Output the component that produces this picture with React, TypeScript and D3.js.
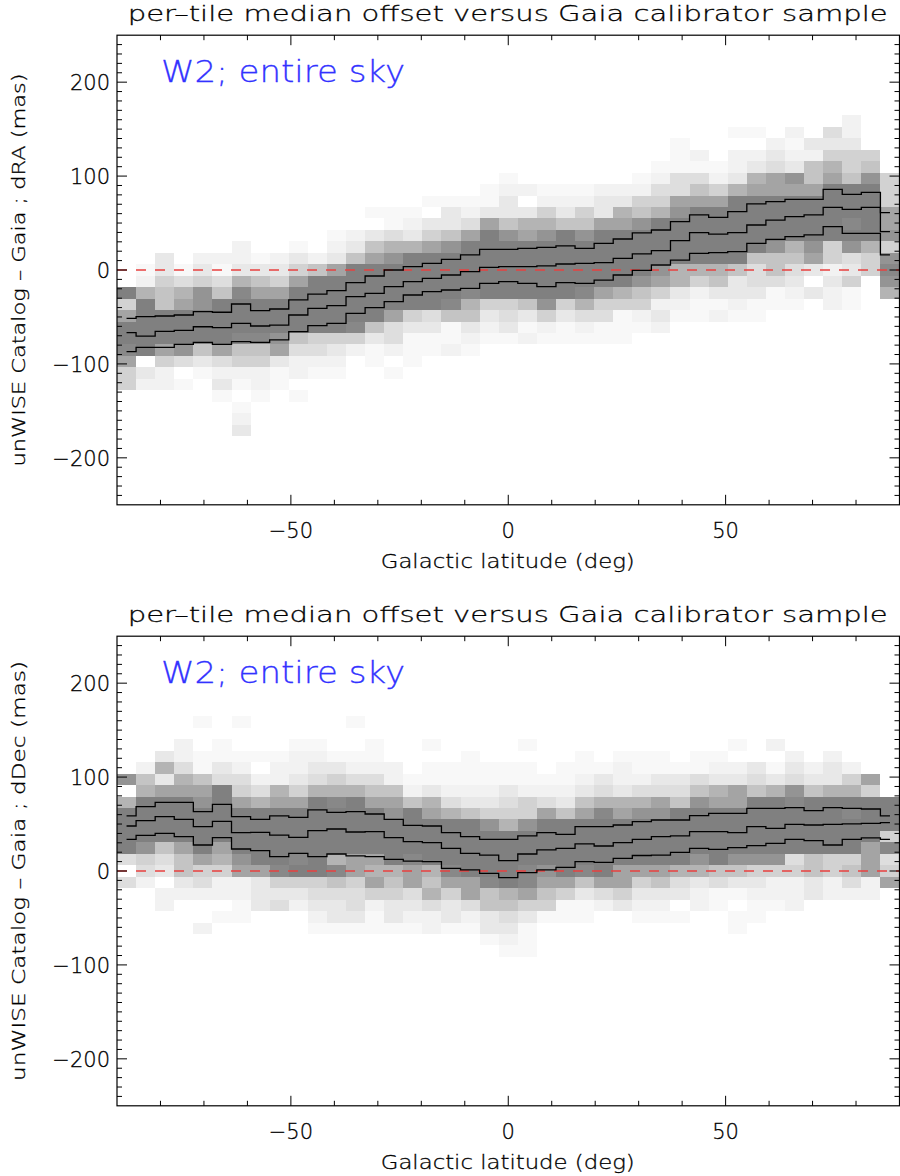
import React from 'react';
import * as d3 from 'd3';

// ---------- binning of the 2-D histograms ----------
const N_LAT = 41;
const N_OFF = 41;
const LAT_MIN = -90;
const LAT_MAX = 90;
const OFF_MIN = -250;
const OFF_MAX = 250;

// grey level codes used in the cell strings ('0' = empty)
const grayLevels: Record<string, number> = {
  '1': 248, '2': 242, '3': 232, '4': 222, '5': 210, '6': 196,
  '7': 180, '8': 164, '9': 148, 'a': 136, 'b': 128,
};

// ---------- dRA panel: per column, row index of first char, then levels downward ----------
const raTopRow = [18, 20, 21, 20, 21, 21, 22, 21, 21, 22, 21, 23, 23, 25, 25, 25, 26, 26, 26, 27, 28,
  27, 27, 27, 27, 27, 27, 28, 29, 31, 30, 29, 32, 32, 31, 32, 31, 32, 33, 30, 28];
const raLevels = [
  'b58bba855', '127bbbbb032', '33566bbb8522', '1478bbb9401', '23599bbb631', '2146bbbb84231',
  '2237abbba65210123', '1368bbba65221', '2358bbb98311', '1358bbbb642201', '26bbbbb5421',
  '1238bbbbb5321', '236bbbbba52', '10368bbbbb6311', '11479bbbb844201', '1237bbbbb53111',
  '10358bbbbb4311', '13369bbbba6112', '1248bbbba76321', '1138bbbbbb5321', '123369bbbbb5431',
  '20378bbbbb6312', '12579bbbbb9521', '1236bbbbbb5311', '12569bbbba7421', '2338bbbbb85411',
  '2378bbbbb75111', '12569bbbb96521', '12457bbbb985232', '1114489bbbb77321', '21468bbbbb75211',
  '1258bbbbb76312', '102237bbbbbb63321', '102378bbbbb644311', '23488bbbb966411',
  '212398bbbb764321', '32668bbbb98303', '43578bbbbb552322', '223556bbbab943511', '569bbbbb755',
  '55588959a97',
];
const raUpper = [-51.4, -49.7, -49, -47.9, -44.4, -45, -36.2, -43.3, -41.5, -31.9, -25.6, -22, -13.5,
  -6.4, 0, 3.6, 7.1, 11.4, 16, 22, 22, 23.1, 24.1, 25.6, 23.1, 28.4, 33, 39.5, 42.6, 51.5, 58.6, 56.1,
  62.1, 70.3, 72.8, 75.3, 75.3, 85.9, 80.6, 82.7, 61.1];
const raMedian = [-66.7, -70.3, -65.3, -64.3, -60.4, -61.4, -56.8, -59.6, -58.6, -47.9, -40.8, -38,
  -28.4, -24.8, -17.8, -12.4, -8.9, -5.3, -1.8, 2.8, 3.6, 3.6, 4.3, 6.4, 7.1, 7.8, 12.4, 17.2, 20.6,
  31.2, 39.8, 38.3, 39.8, 47.9, 53.2, 56.8, 58.6, 66.7, 64.6, 66.7, 40.8];
const raLower = [-87, -82.4, -82.4, -79.2, -77, -79.2, -76.3, -77, -74.5, -65.7, -59.3, -56.8, -46.1,
  -40.1, -33.7, -26.6, -23.1, -21.3, -19.5, -14.2, -12.4, -14.2, -17.8, -13.5, -14.2, -10.7, -5.3,
  -0.5, 5.3, 10.6, 17.7, 18.5, 19.5, 28.4, 32.6, 35.5, 37.3, 46.2, 39, 39, 16];

// ---------- dDec panel ----------
const decTopRow = [28, 29, 30, 31, 33, 31, 33, 30, 30, 31, 31, 30, 33, 31, 29, 28, 31, 29, 30, 29, 29,
  31, 28, 29, 30, 29, 30, 30, 30, 29, 30, 30, 31, 29, 31, 30, 29, 30, 29, 28, 26];
const decLevels = [
  '907bbbb404', '267bbbb9542', '3738bbbb643022', '22478bbbb86632', '10011689bbbb8542002',
  '1134bbbbb8752201', '10012458bbbb982211', '10247bbbbb8333', '12278bbbbba534', '122358bbbbab532',
  '12347bbbbbbb54321', '1357abbbb7a64331', '1001247bbbbb8854431', '112468bbbb8785211',
  '22689bbbb765331', '126bbbba884321', '1011378bbbb767422', '11247bbbba85331', '111236bbbbb88421',
  '112359bbbba66331', '113457bbbbb764321', '10112559bbbaa853111', '1248bbbb98651', '11236bbbbb8511',
  '112368bbbba6311', '1347abbbbb842', '122378bbbb8853', '112479bbbb85321', '113489bbbb86321',
  '1346bbbbb74301', '11469bbbb97322', '12378bbbbb6411', '102388bbbb9631011', '346bbbbb953211',
  '20137bbbbb95221', '2349abbbb45222', '236bbbbb6633', '2337bbbbb5522', '257babbb5642',
  '85bbbb88822', 'bbb5a458',
];
const decUpper = [58.6, 68.5, 73.1, 73.1, 63.2, 71, 57.9, 55, 58.6, 57.2, 65, 62.5, 63.2, 60.7, 55,
  48.6, 47.9, 40.8, 36.6, 33.7, 33.7, 37.3, 40.8, 39, 47.2, 47.2, 49, 52.5, 54.3, 54.3, 58.9, 61.4,
  61.4, 66.7, 66.7, 67.4, 64.3, 67.4, 66.7, 66, 58.6];
const decMedian = [47.9, 53.6, 57.9, 55, 47.2, 52.9, 40.8, 41.2, 38.3, 35.9, 42.9, 44.7, 41.5, 41.9,
  35.5, 31.2, 30.2, 24.1, 18.8, 17, 11, 18.1, 22.4, 24.1, 28.8, 26.6, 30.2, 33.7, 36.6, 37.3, 41.9,
  41.9, 40.8, 47.2, 45.4, 49.7, 49, 49.7, 50.1, 50.8, 51.5];
const decLower = [33.7, 38, 40.1, 36.6, 27.7, 35.5, 23.4, 21.7, 15.3, 18.8, 15.3, 18.1, 16, 15.3, 12.4,
  10.6, 9.9, 2.8, 1.1, -2.5, -7.1, -1.8, 1.1, 3.9, 9.9, 9.2, 13.5, 16.5, 17, 19.9, 24.1, 23.1, 24.8, 27,
  29.5, 33.7, 32.3, 27.7, 33.7, 35.2, 33.7];

// ---------- axes ----------
const latMajorTicks = [-50, 0, 50];
const latMinorTicks = [-80, -70, -60, -40, -30, -20, -10, 10, 20, 30, 40, 60, 70, 80];
const offMajorTicks = [-200, -100, 0, 100, 200];
const offMinorTicks = [-240, -230, -220, -210, -190, -180, -170, -160, -150, -140, -130, -120, -110,
  -90, -80, -70, -60, -50, -40, -30, -20, -10, 10, 20, 30, 40, 50, 60, 70, 80, 90, 110, 120, 130, 140,
  150, 160, 170, 180, 190, 210, 220, 230, 240];

const titleText = 'per–tile median offset versus Gaia calibrator sample';
const sampleText = 'W2; entire sky';
const xLabelText = 'Galactic latitude (deg)';

const FONT = "'DejaVu Sans', 'Liberation Sans', sans-serif";
const PLOT_LEFT = 117;
const PLOT_RIGHT = 899.5;
const PLOT_H = 469.6;

const fmt = (v: number) => (v < 0 ? '−' + Math.abs(v) : String(v));

interface PanelProps {
  top: number;
  topRows: number[];
  levels: string[];
  upper: number[];
  median: number[];
  lower: number[];
  ylabel: string;
  ylabelLen: number;
  id: string;
}

const textStyle = { fontFamily: FONT, fontWeight: 300 } as const;

function Panel({ top, topRows, levels, upper, median, lower, ylabel, ylabelLen, id }: PanelProps) {
  const bottom = top + PLOT_H;
  const x = d3.scaleLinear().domain([LAT_MIN, LAT_MAX]).range([PLOT_LEFT, PLOT_RIGHT]);
  const y = d3.scaleLinear().domain([OFF_MIN, OFF_MAX]).range([bottom, top]);
  const latStep = (LAT_MAX - LAT_MIN) / N_LAT;
  const offStep = (OFF_MAX - OFF_MIN) / N_OFF;

  const cells: React.ReactNode[] = [];
  levels.forEach((s, i) => {
    const x0 = Math.round(x(LAT_MIN + i * latStep));
    const x1 = Math.round(x(LAT_MIN + (i + 1) * latStep));
    for (let j = 0; j < s.length; j++) {
      const ch = s[j];
      if (ch === '0') continue;
      const k = topRows[i] - j;
      const y0 = Math.round(y(OFF_MIN + (k + 1) * offStep));
      const y1 = Math.round(y(OFF_MIN + k * offStep));
      const g = grayLevels[ch];
      cells.push(
        <rect key={`${id}-${i}-${k}`} x={x0} y={y0} width={x1 - x0} height={y1 - y0}
          fill={`rgb(${g},${g},${g})`} />
      );
    }
  });

  const centers = d3.range(N_LAT).map((i) => LAT_MIN + (i + 0.5) * latStep);
  const line = d3.line<number>()
    .x((_, i) => x(centers[i]))
    .y((d) => y(d))
    .curve(d3.curveStep);

  const midX = (PLOT_LEFT + PLOT_RIGHT) / 2 - 0.5;

  return (
    <g>
      <g shapeRendering="crispEdges">{cells}</g>
      <line x1={x(LAT_MIN)} x2={x(LAT_MAX)} y1={y(0)} y2={y(0)} stroke="#e8403f"
        strokeWidth={1.6} strokeDasharray="10 9" />
      {[upper, median, lower].map((arr, idx) => (
        <path key={idx} d={line(arr) || ''} fill="none" stroke="#000" strokeWidth={1.3} />
      ))}
      {/* frame */}
      <rect x={PLOT_LEFT} y={top} width={PLOT_RIGHT - PLOT_LEFT} height={PLOT_H} fill="none"
        stroke="#000" strokeWidth={1.2} />
      {/* x ticks bottom & top */}
      {latMajorTicks.map((t) => (
        <g key={`xm${t}`} stroke="#000" strokeWidth={1}>
          <line x1={x(t)} x2={x(t)} y1={bottom} y2={bottom - 10} />
          <line x1={x(t)} x2={x(t)} y1={top} y2={top + 10} />
        </g>
      ))}
      {latMinorTicks.map((t) => (
        <g key={`xn${t}`} stroke="#000" strokeWidth={1}>
          <line x1={x(t)} x2={x(t)} y1={bottom} y2={bottom - 5} />
          <line x1={x(t)} x2={x(t)} y1={top} y2={top + 5} />
        </g>
      ))}
      {/* y ticks left & right */}
      {offMajorTicks.map((t) => (
        <g key={`ym${t}`} stroke="#000" strokeWidth={1}>
          <line x1={PLOT_LEFT} x2={PLOT_LEFT + 10} y1={y(t)} y2={y(t)} />
          <line x1={PLOT_RIGHT} x2={PLOT_RIGHT - 10} y1={y(t)} y2={y(t)} />
        </g>
      ))}
      {offMinorTicks.map((t) => (
        <g key={`yn${t}`} stroke="#000" strokeWidth={1}>
          <line x1={PLOT_LEFT} x2={PLOT_LEFT + 5} y1={y(t)} y2={y(t)} />
          <line x1={PLOT_RIGHT} x2={PLOT_RIGHT - 5} y1={y(t)} y2={y(t)} />
        </g>
      ))}
      {/* tick labels */}
      <g fill="#000" stroke="#000" strokeWidth={0.3} style={textStyle}>
        {latMajorTicks.map((t) => (
          <text key={`xl${t}`} x={x(t)} y={bottom + 33} textAnchor="middle" fontSize={21}>{fmt(t)}</text>
        ))}
        {offMajorTicks.map((t) => (
          <text key={`yl${t}`} x={110} y={y(t) + 8} textAnchor="end" fontSize={21}>{fmt(t)}</text>
        ))}
        {/* titles */}
        <text x={midX} y={top - 14.2} textAnchor="middle" fontSize={22}
          textLength={760} lengthAdjust="spacingAndGlyphs">{titleText}</text>
        <text x={midX} y={bottom + 63} textAnchor="middle" fontSize={19}
          textLength={254} lengthAdjust="spacingAndGlyphs">{xLabelText}</text>
        <text transform={`translate(25,${(top + bottom) / 2}) rotate(-90)`} textAnchor="middle"
          fontSize={18} textLength={ylabelLen} lengthAdjust="spacingAndGlyphs">{ylabel}</text>
      </g>
      <text x={161} y={top + 46.5} fontSize={31} style={textStyle} fill="#3232ff" stroke="#3232ff"
        strokeWidth={0.3} textLength={244} lengthAdjust="spacingAndGlyphs">{sampleText}</text>
    </g>
  );
}

export default function App() {
  return (
    <svg width={900} height={1176} viewBox="0 0 900 1176"
      style={{ position: 'absolute', left: 0, top: 0, background: '#fff' }}>
      <rect x={0} y={0} width={900} height={1176} fill="#fff" />
      <Panel id="ra" top={35.2} topRows={raTopRow} levels={raLevels} upper={raUpper} median={raMedian}
        lower={raLower} ylabel="unWISE Catalog – Gaia ; dRA (mas)" ylabelLen={393} />
      <Panel id="dec" top={636.2} topRows={decTopRow} levels={decLevels} upper={decUpper}
        median={decMedian} lower={decLower} ylabel="unWISE Catalog – Gaia ; dDec (mas)" ylabelLen={420} />
    </svg>
  );
}
